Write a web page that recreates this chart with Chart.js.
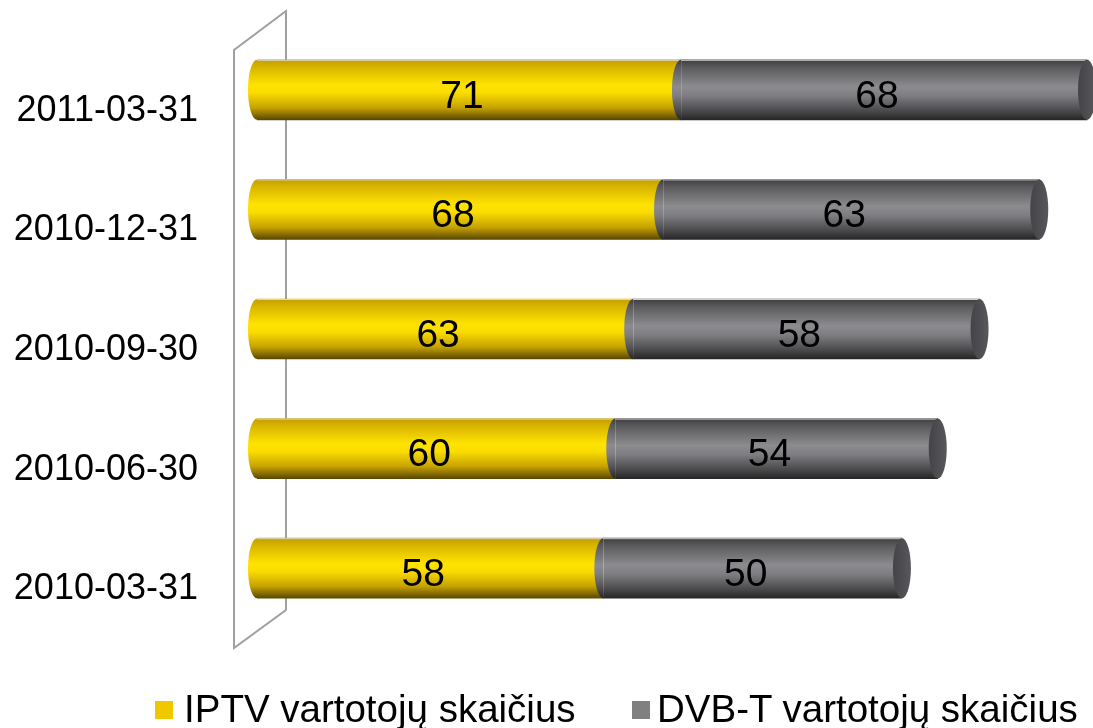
<!DOCTYPE html>
<html>
<head>
<meta charset="utf-8">
<script src="https://cdn.jsdelivr.net/npm/chart.js@4"></script>
<style>
  html, body { margin: 0; padding: 0; background: #fff; overflow: hidden; }
  #wrap { position: relative; width: 1093px; height: 728px; }
  .legend-item {
    position: absolute; top: 689px;
    font: 38.5px "Liberation Sans", Arial, sans-serif; line-height: 40px;
    color: #000; white-space: nowrap;
  }
  .legend-item i { position: absolute; left: 0; top: 12px; width: 18px; height: 18px; }
</style>
</head>
<body>
<div id="wrap">
  <canvas id="chart" width="1093" height="728"></canvas>
  <div class="legend-item" style="left:155px; padding-left:29px;"><i style="background:#f0c800"></i><span id="lg0"></span></div>
  <div class="legend-item" style="left:632px; padding-left:25px;"><i style="background:#808080"></i><span id="lg1"></span></div>
</div>
<script>
// Duomenys
const categories = ["2011-03-31", "2010-12-31", "2010-09-30", "2010-06-30", "2010-03-31"];
const iptvValues = [71, 68, 63, 60, 58];
const dvbtValues = [68, 63, 58, 54, 50];
const seriesNames = ["IPTV vartotojų skaičius", "DVB-T vartotojų skaičius"];

const BAR_H = 60;   // cilindro storis
const RX = 9;       // elipsės spindulys x kryptimi

// gradientai: viršus -> apačia
const yellowStops = [[0, "#c49e00"], [0.12, "#d8b400"], [0.42, "#ffe300"], [0.55, "#fbdc00"], [0.8, "#c6a200"], [1, "#5a4800"]];
const grayStops = [[0, "#3e3e40"], [0.12, "#5a5a5c"], [0.45, "#8c8c90"], [0.6, "#7e7e82"], [0.85, "#4a4a4c"], [1, "#262626"]];
const allStops = [yellowStops, grayStops];

function makeGrad(c, top, h, stops) {
  const g = c.createLinearGradient(0, top, 0, top + h);
  stops.forEach(s => g.addColorStop(s[0], s[1]));
  return g;
}

function barColor(stops) {
  return (ctx) => {
    const ys = ctx.chart.scales.y;
    if (!ys || ctx.dataIndex === undefined) return stops[2][1];
    const yc = ys.getPixelForValue(ctx.dataIndex);
    if (!isFinite(yc)) return stops[2][1];
    return makeGrad(ctx.chart.ctx, yc - BAR_H / 2, BAR_H, stops);
  };
}

// 3D sienelė ir cilindrų galai
const cylinderPlugin = {
  id: "cylinders",
  beforeDatasetsDraw(chart) {
    const { left, top, bottom } = chart.chartArea;
    const c = chart.ctx;
    c.save();
    c.strokeStyle = "#a0a0a0";
    c.lineWidth = 2;
    c.beginPath();
    c.moveTo(left + 29, top - 19);
    c.lineTo(left - 23, top + 20);
    c.lineTo(left - 23, bottom + 20);
    c.lineTo(left + 29, bottom - 18);
    c.closePath();
    c.stroke();
    c.restore();
  },
  afterDatasetsDraw(chart) {
    const c = chart.ctx;
    const last = chart.data.datasets.length - 1;
    const labels = [];
    chart.data.datasets.forEach((ds, di) => {
      const meta = chart.getDatasetMeta(di);
      meta.data.forEach((bar, i) => {
        const p = bar.getProps(["x", "y", "base", "height"], true);
        const h = p.height, top = p.y - h / 2;
        c.save();
        // kairysis išgaubtas galas
        c.fillStyle = makeGrad(c, top, h, allStops[di]);
        c.beginPath();
        c.ellipse(p.base, p.y, RX, h / 2, 0, Math.PI / 2, Math.PI * 1.5);
        c.closePath();
        c.fill();
        // šviesi viršutinė briauna
        c.strokeStyle = "rgba(220,220,220,0.9)";
        c.lineWidth = 1;
        c.beginPath();
        c.moveTo(p.base, top + 0.5);
        c.lineTo(p.x, top + 0.5);
        c.stroke();
        // dešinysis galas
        if (di === last) {
          const g = c.createLinearGradient(p.x - RX, 0, p.x + RX, 0);
          g.addColorStop(0, "#444448");
          g.addColorStop(1, "#58585c");
          c.fillStyle = g;
          c.beginPath();
          c.ellipse(p.x, p.y, RX, h / 2, 0, 0, Math.PI * 2);
          c.fill();
        }
        c.restore();
        labels.push({ x: (p.base + p.x) / 2 - 7, y: p.y + 7, text: String(ds.data[i]) });
      });
    });
    c.save();
    c.fillStyle = "#000";
    c.font = '39px "Liberation Sans", Arial, sans-serif';
    c.textAlign = "center";
    c.textBaseline = "middle";
    labels.forEach(l => c.fillText(l.text, l.x, l.y));
    c.restore();
  }
};

document.getElementById("lg0").textContent = seriesNames[0];
document.getElementById("lg1").textContent = seriesNames[1];

new Chart(document.getElementById("chart"), {
  type: "bar",
  data: {
    labels: categories,
    datasets: [
      { label: seriesNames[0], data: iptvValues, backgroundColor: barColor(yellowStops), borderWidth: 0, barThickness: BAR_H },
      { label: seriesNames[1], data: dvbtValues, backgroundColor: barColor(grayStops), borderWidth: 0, barThickness: BAR_H },
    ],
  },
  options: {
    indexAxis: "y",
    responsive: false,
    animation: false,
    layout: { padding: { top: 30, bottom: 100, left: 0, right: 0 } },
    plugins: { legend: { display: false }, tooltip: { enabled: false } },
    scales: {
      x: { stacked: true, display: false, min: 0, max: 140 },
      y: {
        stacked: true,
        grid: { display: false, drawTicks: false },
        border: { display: false },
        ticks: {
          padding: 59,
          labelOffset: 21,
          color: "#000",
          font: { family: '"Liberation Sans", Arial, sans-serif', size: 36 },
        },
        afterFit: (s) => { s.width = 257; s.paddingTop = 0; s.paddingBottom = 0; },
      },
    },
  },
  plugins: [cylinderPlugin],
});
</script>
</body>
</html>
